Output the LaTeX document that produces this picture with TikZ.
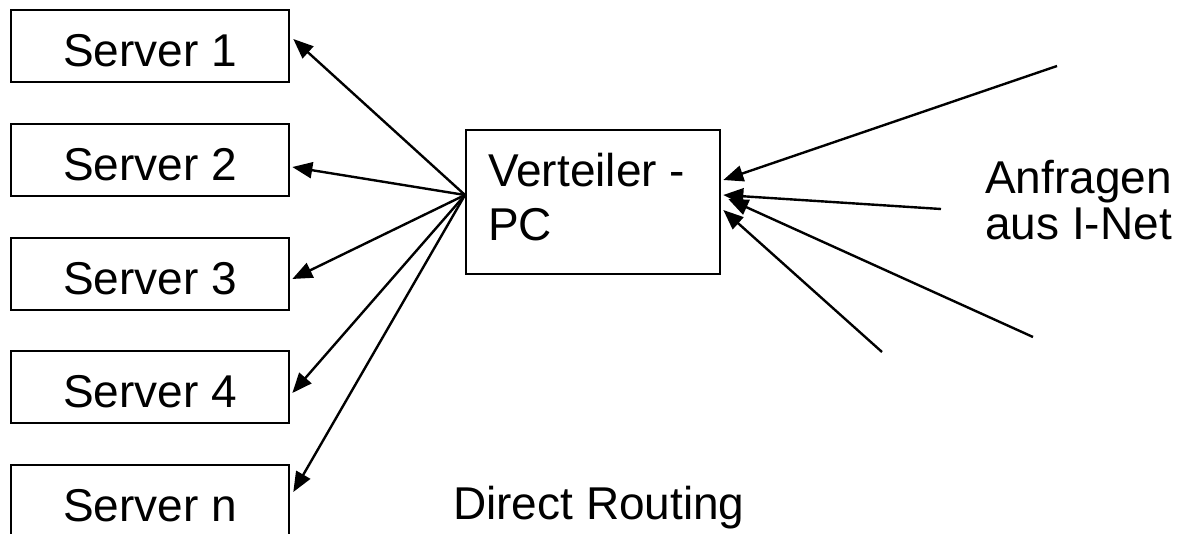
\documentclass[tikz,border=0pt]{standalone}
\usepackage{fontspec}
\setmainfont{Liberation Sans}
\usetikzlibrary{arrows.meta,calc}
\begin{document}
\begin{tikzpicture}[x=1pt,y=-1pt,
  every node/.style={font=\fontsize{46}{54}\selectfont},
  srv/.style={draw,line width=2.6pt,minimum width=278pt,minimum height=72pt,inner sep=0pt,text height=40pt,text depth=0pt},
  box/.style={draw,line width=2.6pt,minimum width=254pt,minimum height=144pt,inner sep=0pt},
  conn/.style={line width=2.4pt,-{Triangle[length=20pt,width=16pt]}},
  lbl/.style={inner sep=0pt,align=left}]
\useasboundingbox (0,0) rectangle (1188,533);
\fill[white] (0,0) rectangle (1188,533);
\node[srv] (s1) at (150,46) {Server 1};
\node[srv] (s2) at (150,160) {Server 2};
\node[srv] (s3) at (150,274) {Server 3};
\node[srv] (s4) at (150,387) {Server 4};
\node[srv] (sn) at (150,501) {Server n};
\node[box] (vpc) at (593,202) {};
\node[lbl,anchor=north west,font=\fontsize{46}{54}\selectfont] (vtxt) at (488,153) {Verteiler -\\PC};
\node[lbl,anchor=north west,font=\fontsize{46}{46}\selectfont] (inet) at (985,160) {Anfragen\\aus I-Net};
\node[lbl,anchor=base west] (dr) at (453,519) {Direct Routing};
\coordinate (fan) at (465,195);
\draw[conn] (fan) -- ($(s1.east)+(3,-7)$);
\draw[conn] (fan) -- ($(s2.east)+(2,7)$);
\draw[conn] (fan) -- ($(s3.east)+(2,5)$);
\draw[conn] (fan) -- ($(s4.east)+(2,6)$);
\draw[conn] (fan) -- ($(sn.east)+(3,-9)$);
\coordinate (r1) at (1057,66);
\coordinate (r2) at (941,209);
\coordinate (r3) at (1033,337);
\coordinate (r4) at (882,352);
\draw[conn] (r1) -- ($(vpc.east)+(2,-22)$);
\draw[conn] (r2) -- ($(vpc.east)+(2,-7)$);
\draw[conn] (r3) -- ($(vpc.east)+(7,-3)$);
\draw[conn] (r4) -- ($(vpc.east)+(2,8)$);
\end{tikzpicture}
\end{document}
